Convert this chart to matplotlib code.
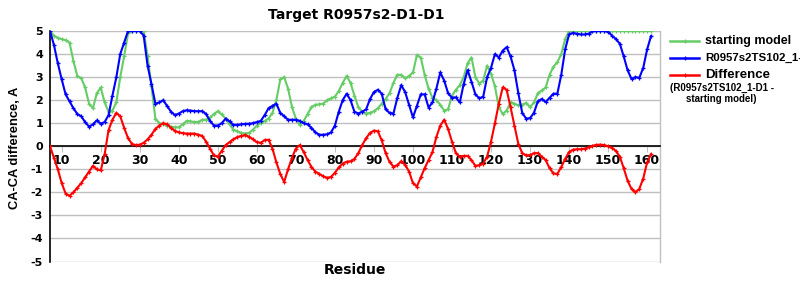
import matplotlib
matplotlib.use("Agg")
import matplotlib.pyplot as plt
from matplotlib.lines import Line2D
import numpy as np

plt.rcParams['axes.unicode_minus'] = False

residues = list(range(7, 162))

starting_model = [
    5.0, 4.8, 4.7, 4.65, 4.6, 4.5, 3.7, 3.05, 2.95, 2.55, 1.85, 1.65, 2.3, 2.55, 1.9, 1.5,
    1.55, 1.9, 3.0, 3.9, 4.9, 5.0, 5.0, 5.0, 5.0, 3.9, 2.6, 1.2, 1.0, 0.95, 0.9, 0.85,
    0.82, 0.82, 0.95, 1.1, 1.08, 1.05, 1.05, 1.15, 1.15, 1.25, 1.4, 1.52, 1.38, 1.2, 0.95, 0.72,
    0.65, 0.58, 0.55, 0.58, 0.72, 0.9, 1.0, 1.1, 1.2, 1.45, 2.0, 2.9, 3.0, 2.5, 1.7, 1.2,
    0.92, 1.1, 1.4, 1.7, 1.8, 1.82, 1.85, 2.0, 2.08, 2.15, 2.4, 2.75, 3.05, 2.75, 2.2, 1.7,
    1.5, 1.42, 1.45, 1.52, 1.65, 1.85, 2.05, 2.3, 2.75, 3.1, 3.1, 2.95, 3.05, 3.2, 3.95, 3.85,
    3.1, 2.5, 2.1, 2.0, 1.8, 1.55, 1.6, 2.2, 2.45, 2.65, 3.0, 3.6, 3.85, 3.0, 2.72, 2.85,
    3.5, 3.15, 2.6, 1.7, 1.4, 1.55, 1.9, 1.85, 1.77, 1.8, 1.88, 1.7, 1.9, 2.3, 2.42,
    2.55, 3.1, 3.45, 3.65, 4.0, 4.65,
    5.0, 5.0, 5.0, 5.0, 5.0, 5.0, 5.0, 5.0, 5.0, 5.0, 5.0, 5.0, 5.0, 5.0, 5.0, 5.0,
    5.0, 5.0, 5.0, 5.0, 5.0, 5.0,
]

model_ts102 = [
    5.0, 4.4, 3.6, 2.9, 2.25, 1.95, 1.65, 1.4, 1.3, 1.05, 0.85, 0.95, 1.12, 0.98, 1.05, 1.35,
    2.2, 3.0, 4.0, 4.5, 5.0, 5.0, 5.0, 5.0, 4.8, 3.5, 2.7, 1.85, 1.9, 2.0, 1.75, 1.5,
    1.35, 1.42, 1.52, 1.56, 1.55, 1.52, 1.52, 1.52, 1.4, 1.1, 0.9, 0.9, 1.0, 1.2, 1.08, 0.93,
    0.93, 0.95, 0.97, 0.98, 1.0, 1.05, 1.1, 1.35, 1.65, 1.75, 1.85, 1.45, 1.3, 1.15, 1.15, 1.15,
    1.1, 1.0, 0.95, 0.8, 0.6, 0.5, 0.5, 0.52, 0.6, 0.9, 1.5, 2.0, 2.28, 2.0, 1.5, 1.42,
    1.5, 1.6, 2.05, 2.35, 2.45, 2.28, 1.6, 1.45, 1.42, 2.1, 2.65, 2.35, 1.8, 1.25, 1.75, 2.25,
    2.25, 1.68, 1.9, 2.5, 3.2, 2.85, 2.3, 2.1, 2.12, 1.9, 2.7, 3.3, 2.8, 2.25, 2.08, 2.15,
    3.0, 3.4, 4.0, 3.85, 4.15, 4.3, 3.9, 3.3, 2.3, 1.45, 1.2, 1.22, 1.45, 1.95, 2.05,
    1.92, 2.1, 2.28, 2.28, 3.1, 4.2, 4.85, 4.92, 4.88, 4.85, 4.85, 4.88, 4.98, 5.0, 5.0, 5.0,
    4.97, 4.8, 4.65, 4.45, 3.9, 3.3, 2.92, 3.0, 2.97, 3.4, 4.2, 4.78,
]

difference = [
    0.0, -0.5, -1.0, -1.6, -2.05, -2.15, -2.0, -1.8, -1.6, -1.35, -1.1, -0.85, -1.0, -1.05, -0.35, 0.7,
    1.15, 1.45, 1.3, 0.8, 0.35, 0.1, 0.05, 0.07, 0.15, 0.3, 0.5, 0.75, 0.9, 1.0, 0.95, 0.8,
    0.67, 0.6, 0.57, 0.55, 0.55, 0.55, 0.5, 0.45, 0.2, -0.1, -0.4, -0.45, -0.2, 0.05, 0.18, 0.3,
    0.4, 0.45, 0.48, 0.42, 0.3, 0.18, 0.15, 0.27, 0.28, -0.1, -0.7, -1.2, -1.55, -1.0, -0.5, -0.1,
    0.05, -0.25, -0.6, -0.9, -1.1, -1.2, -1.3, -1.37, -1.33, -1.15, -0.92, -0.75, -0.67, -0.65, -0.55, -0.3,
    0.05, 0.35, 0.58, 0.68, 0.65, 0.25, -0.3, -0.68, -0.88, -0.82, -0.65, -0.8, -1.1, -1.6, -1.75, -1.35,
    -0.95, -0.6, -0.25, 0.4, 0.9, 1.15, 0.75, 0.2, -0.3, -0.45, -0.42, -0.42, -0.6, -0.85, -0.82, -0.75,
    -0.45, 0.2, 1.0, 1.85, 2.55, 2.45, 1.7, 0.9, 0.1, -0.3, -0.4, -0.38, -0.3, -0.3, -0.45,
    -0.6, -0.95, -1.18, -1.2, -0.9, -0.55, -0.25, -0.15, -0.13, -0.13, -0.1, -0.05, 0.02, 0.06, 0.07, 0.05,
    0.0, -0.07, -0.2, -0.45, -0.95, -1.5, -1.85, -2.0, -1.85, -1.4, -0.7, -0.35,
]

x_ticks = list(range(10, 161, 10))
y_ticks = list(range(-5, 6))

GREEN = '#66CC66'
BLUE = '#0000FF'
RED = '#FF0000'

fig = plt.figure(figsize=(8, 3), dpi=100)
ax = fig.add_axes([50/800, 1-261.5/300, 610/800, (261.5-31)/300])

for yv in y_ticks:
    ax.axhline(yv, color='#C0C0C0', lw=1, zorder=0)

kw = dict(lw=1.5, marker='+', ms=3.5, mew=0.9)
ax.plot(residues, starting_model, color=GREEN, **kw, zorder=3)
ax.plot(residues, model_ts102, color=BLUE, **kw, zorder=4)
ax.plot(residues, difference, color=RED, **kw, zorder=5)

ax.set_xlim(7, 163.3)
ax.set_ylim(-5, 5)

ax.spines['bottom'].set_position(('data', 0))
ax.spines['bottom'].set_color('black')
ax.spines['bottom'].set_linewidth(1.2)
ax.spines['left'].set_color('black')
ax.spines['left'].set_linewidth(1.2)
ax.spines['top'].set_visible(False)
ax.spines['right'].set_color('#C0C0C0')
ax.spines['right'].set_linewidth(1)

ax.set_xticks(x_ticks)
ax.set_xticklabels([str(t) for t in x_ticks], fontweight='bold', fontsize=9,
                   family='DejaVu Sans')
ax.tick_params(axis='x', direction='out', length=4, color='#C0C0C0', pad=1.5)
ax.set_yticks(y_ticks)
ax.set_yticklabels([str(t) for t in y_ticks], fontweight='bold', fontsize=8,
                   family='DejaVu Sans')
ax.tick_params(axis='y', length=0, pad=5)

fig.text(356/800, 1-15/300, 'Target R0957s2-D1-D1', ha='center', va='center',
         fontsize=10, fontweight='bold', family='DejaVu Sans')
fig.text(355/800, 1-270/300, 'Residue', ha='center', va='center',
         fontsize=10, fontweight='bold', family='DejaVu Sans')
fig.text(15/800, 1-148/300, 'CA-CA difference, A', ha='center', va='center',
         rotation=90, fontsize=9.3, fontweight='bold', family='Liberation Sans')

# legend
entries = [(41, GREEN, 'starting model', 9), (58, BLUE, 'R0957s2TS102_1-D1', 8.2),
           (75, RED, 'Difference', 9.5)]
for yp, col, lab, fs in entries:
    fig.add_artist(Line2D([670/800, 699/800], [1-yp/300, 1-yp/300], color=col, lw=1.8,
                          transform=fig.transFigure))
    fig.add_artist(Line2D([684.5/800], [1-yp/300], color=col, marker='+', ms=3.5, mew=0.9,
                          transform=fig.transFigure))
    fig.text(705/800, 1-yp/300, lab, ha='left', va='center', fontsize=fs,
             fontweight='bold', family='Liberation Sans')
fig.text(670/800, 1-88/300, '(R0957s2TS102_1-D1 -', ha='left', va='center', fontsize=7,
         fontweight='bold', family='Liberation Sans')
fig.text(686/800, 1-99/300, 'starting model)', ha='left', va='center', fontsize=7,
         fontweight='bold', family='Liberation Sans')

fig.savefig('out.png', dpi=100)
